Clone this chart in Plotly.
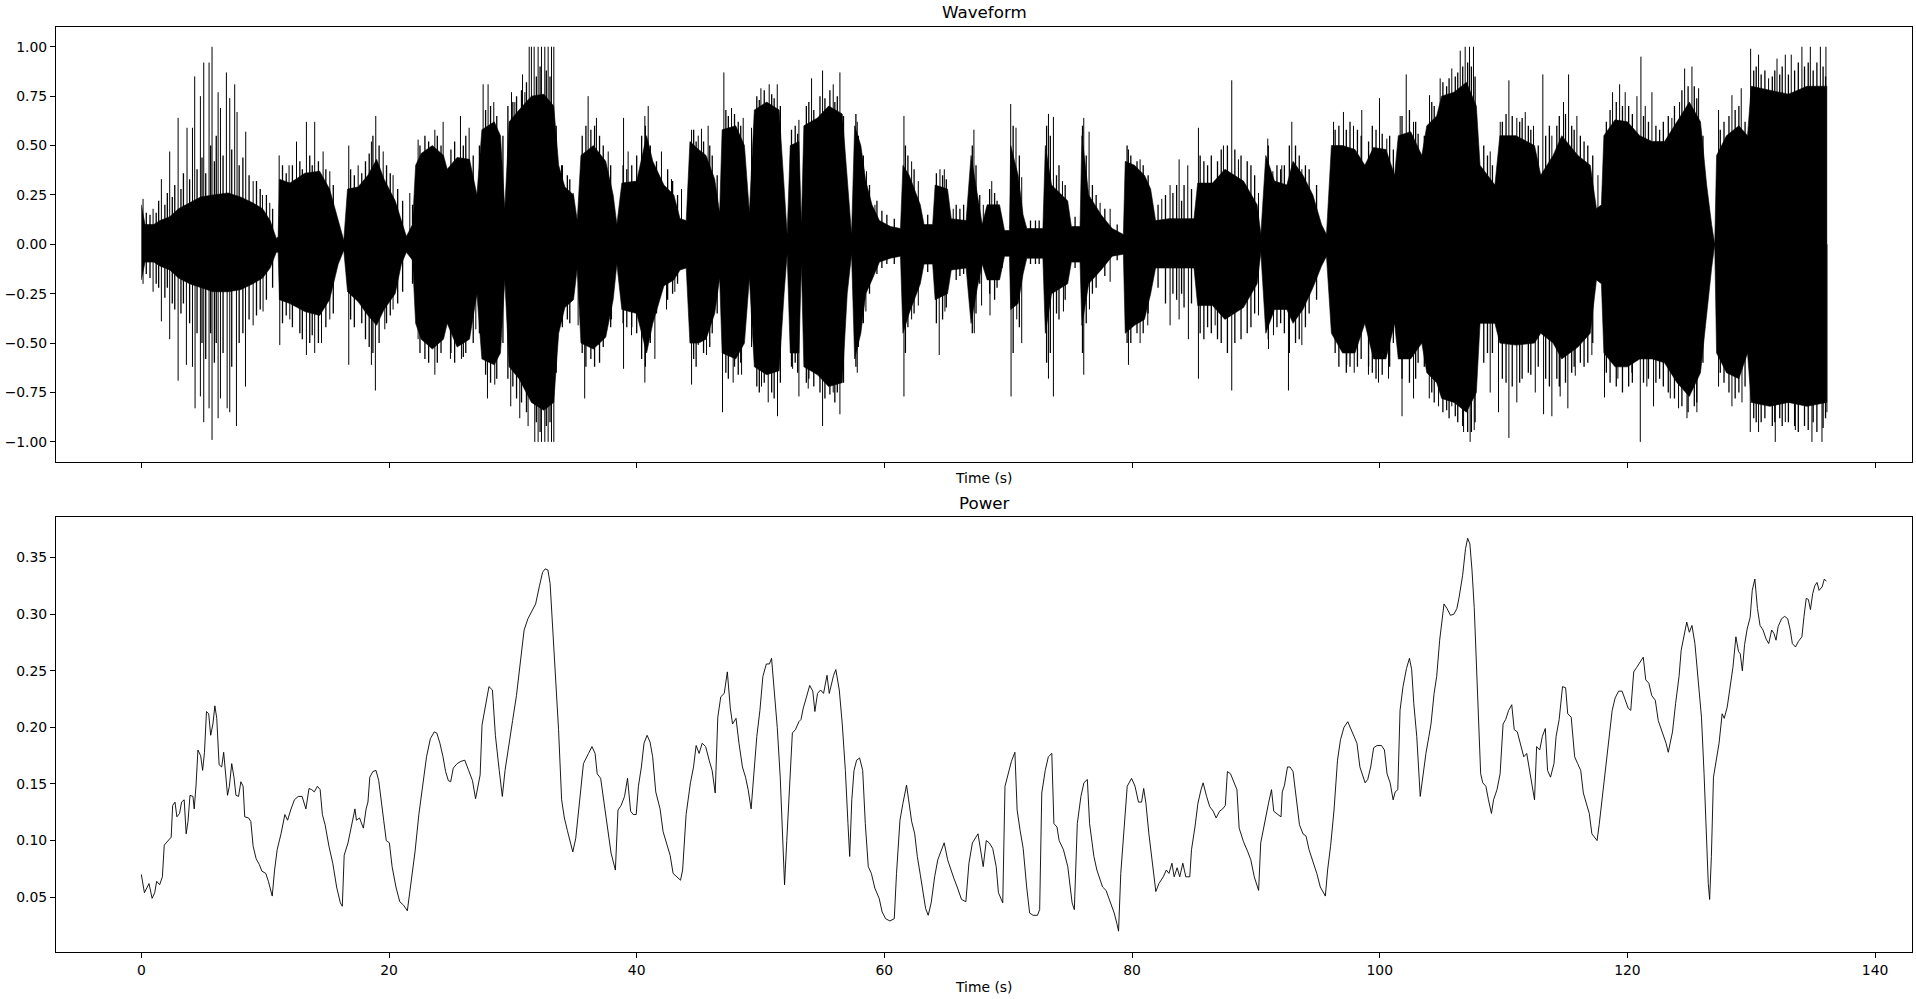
import plotly.graph_objects as go

# ---------------- Waveform envelope (time s, upper, lower) ----------------
env_a = [(0.0, 0.20, -0.18), (0.3, 0.10, -0.09), (1.0, 0.10, -0.09), (1.5, 0.12, -0.11), (2.3, 0.14, -0.13),
         (3.0, 0.18, -0.17), (3.9, 0.21, -0.20), (4.8, 0.24, -0.22), (5.8, 0.25, -0.24), (7.0, 0.26, -0.24),
         (8.0, 0.24, -0.23), (9.0, 0.21, -0.20), (9.8, 0.18, -0.17), (10.4, 0.12, -0.12), (10.9, 0.03, -0.04),
         (11.05, 0.04, -0.04), (11.15, 0.33, -0.28), (12.0, 0.31, -0.30), (13.2, 0.36, -0.34), (14.4, 0.37, -0.36),
         (15.2, 0.28, -0.28), (15.9, 0.12, -0.10), (16.35, 0.02, -0.03), (16.65, 0.28, -0.24), (17.5, 0.29, -0.29),
         (18.3, 0.35, -0.36), (19.0, 0.43, -0.41), (19.6, 0.33, -0.33), (20.5, 0.22, -0.25), (21.0, 0.12, -0.10),
         (21.4, 0.04, -0.04), (21.9, 0.10, -0.08)]
env_b = [(22.15, 0.40, -0.40), (22.6, 0.46, -0.48), (23.5, 0.50, -0.53), (24.4, 0.45, -0.48), (24.7, 0.38, -0.40),
         (25.5, 0.44, -0.52), (26.5, 0.43, -0.48), (27.1, 0.25, -0.25), (27.5, 0.58, -0.58), (28.5, 0.62, -0.61),
         (29.0, 0.55, -0.55), (29.35, 0.18, -0.18), (29.7, 0.62, -0.62), (30.5, 0.68, -0.68), (31.5, 0.75, -0.80),
         (32.5, 0.76, -0.84), (33.3, 0.70, -0.80), (33.7, 0.40, -0.45), (34.2, 0.29, -0.32), (34.9, 0.25, -0.28),
         (35.2, 0.12, -0.12), (35.5, 0.45, -0.50), (36.5, 0.50, -0.53), (37.5, 0.42, -0.47), (38.1, 0.25, -0.28),
         (38.4, 0.10, -0.10), (38.8, 0.31, -0.33), (40.0, 0.32, -0.35), (40.8, 0.55, -0.55), (41.3, 0.42, -0.40),
         (42.2, 0.30, -0.21), (43.0, 0.25, -0.18), (43.5, 0.13, -0.13), (44.0, 0.12, -0.12), (44.3, 0.52, -0.50),
         (45.0, 0.48, -0.50)]
env_c = [(45.6, 0.45, -0.48), (46.3, 0.33, -0.35), (46.7, 0.16, -0.17), (46.9, 0.58, -0.55), (48.0, 0.60, -0.58),
         (48.7, 0.50, -0.50), (49.1, 0.16, -0.17), (49.5, 0.68, -0.62), (50.5, 0.72, -0.66), (51.5, 0.68, -0.64),
         (51.9, 0.30, -0.25), (52.15, 0.05, -0.05), (52.4, 0.50, -0.55), (53.1, 0.52, -0.55), (53.3, 0.10, -0.10),
         (53.5, 0.60, -0.62), (54.6, 0.64, -0.66), (55.5, 0.70, -0.72), (56.6, 0.66, -0.70), (57.0, 0.35, -0.25),
         (57.35, 0.05, -0.05), (57.6, 0.60, -0.58), (58.1, 0.50, -0.45), (58.5, 0.32, -0.25), (59.0, 0.20, -0.18),
         (59.6, 0.12, -0.09), (60.5, 0.09, -0.07), (61.3, 0.08, -0.06), (61.5, 0.40, -0.45), (62.0, 0.35, -0.35),
         (62.9, 0.20, -0.20), (63.2, 0.10, -0.10), (63.9, 0.10, -0.10), (64.1, 0.30, -0.28), (65.1, 0.28, -0.25),
         (65.4, 0.13, -0.13), (66.6, 0.12, -0.12), (67.0, 0.45, -0.40), (67.5, 0.25, -0.22), (67.9, 0.10, -0.10)]
env_d = [(68.3, 0.20, -0.18), (69.3, 0.20, -0.18), (69.7, 0.07, -0.06), (70.1, 0.07, -0.06), (70.2, 0.50, -0.33),
         (70.8, 0.35, -0.30), (71.2, 0.15, -0.15), (71.5, 0.08, -0.07), (72.8, 0.08, -0.07), (73.0, 0.50, -0.45),
         (73.5, 0.30, -0.25), (74.8, 0.22, -0.20), (75.1, 0.09, -0.09), (75.8, 0.09, -0.09), (75.95, 0.55, -0.41),
         (76.5, 0.25, -0.20), (77.5, 0.15, -0.13), (78.4, 0.08, -0.06), (79.3, 0.05, -0.05), (79.45, 0.42, -0.45),
         (80.2, 0.40, -0.41), (81.0, 0.35, -0.38), (81.5, 0.28, -0.25), (81.9, 0.12, -0.12), (83.0, 0.13, -0.12),
         (85.0, 0.13, -0.12), (85.3, 0.31, -0.31), (86.5, 0.31, -0.31), (87.5, 0.38, -0.38), (89.0, 0.32, -0.32),
         (90.1, 0.20, -0.20), (90.4, 0.05, -0.04), (90.8, 0.45, -0.45)]
env_e = [(91.5, 0.32, -0.33), (92.5, 0.30, -0.33), (93.0, 0.42, -0.40), (93.8, 0.35, -0.33), (94.6, 0.25, -0.22),
         (95.3, 0.10, -0.11), (95.7, 0.05, -0.06), (96.1, 0.50, -0.45), (97.0, 0.50, -0.55), (98.0, 0.48, -0.55),
         (98.8, 0.40, -0.40), (99.5, 0.49, -0.58), (100.5, 0.48, -0.58), (101.2, 0.35, -0.40), (101.5, 0.55, -0.58),
         (102.5, 0.57, -0.58), (103.4, 0.45, -0.50), (103.8, 0.60, -0.65), (104.6, 0.65, -0.70), (105.0, 0.75, -0.78),
         (106.0, 0.77, -0.80), (107.0, 0.82, -0.85), (107.8, 0.70, -0.75), (108.1, 0.40, -0.40), (109.3, 0.30, -0.40),
         (109.7, 0.55, -0.50), (111.0, 0.55, -0.51), (112.5, 0.50, -0.50), (113.0, 0.35, -0.45), (114.0, 0.45, -0.50)]
env_f = [(114.7, 0.55, -0.58), (116.0, 0.45, -0.52), (117.0, 0.40, -0.45), (117.5, 0.18, -0.18), (117.9, 0.20, -0.20),
         (118.1, 0.55, -0.55), (119.0, 0.63, -0.62), (120.0, 0.62, -0.62), (121.0, 0.55, -0.58), (122.0, 0.52, -0.58),
         (123.0, 0.52, -0.60), (124.0, 0.62, -0.70), (125.0, 0.72, -0.77), (125.9, 0.62, -0.65), (126.4, 0.30, -0.35),
         (126.8, 0.10, -0.12), (127.05, 0.0, 0.0), (127.2, 0.45, -0.55), (128.0, 0.55, -0.65), (129.0, 0.60, -0.68),
         (129.7, 0.55, -0.55), (130.0, 0.80, -0.80), (131.5, 0.78, -0.82), (133.0, 0.76, -0.80), (134.5, 0.80, -0.82),
         (136.1, 0.80, -0.80)]

# ---------------- Waveform tall peaks (time s, amplitude) ----------------
peaks_up = [(0.14, 0.23), (0.95, 0.18), (1.62, 0.33), (2.29, 0.47), (2.97, 0.64), (3.69, 0.59), (4.13, 0.59),
            (4.31, 0.85), (4.77, 0.75), (5.04, 0.92), (5.47, 0.92), (5.71, 1.0), (6.2, 0.77), (6.39, 0.69),
            (6.87, 0.87), (7.14, 0.74), (7.54, 0.81), (7.73, 0.67), (8.43, 0.57), (9.03, 0.32), (9.78, 0.25),
            (10.37, 0.21), (11.13, 0.45), (11.93, 0.40), (12.53, 0.52), (13.33, 0.62), (14.0, 0.62), (14.68, 0.47),
            (15.22, 0.37), (16.75, 0.50), (17.51, 0.40), (18.58, 0.52), (18.93, 0.65), (19.53, 0.47), (20.33, 0.35),
            (21.68, 0.26),
            (22.35, 0.53), (23.7, 0.58), (24.37, 0.62), (25.77, 0.65), (26.47, 0.59), (27.6, 0.81), (28.0, 0.81),
            (28.46, 0.72), (29.89, 0.77), (30.16, 0.72), (30.78, 0.86), (30.97, 0.77), (31.32, 1.0), (31.5, 1.0),
            (31.72, 1.0), (32.04, 1.0), (32.31, 1.0), (32.58, 1.0), (32.85, 1.0), (33.12, 1.0), (33.31, 1.0),
            (33.93, 0.40), (34.87, 0.26), (36.08, 0.75), (36.75, 0.64), (37.7, 0.47), (38.94, 0.64), (39.31, 0.47),
            (40.66, 0.65), (40.93, 0.70), (42.0, 0.47), (42.81, 0.33), (43.62, 0.28), (44.43, 0.58), (44.97, 0.55),
            (45.23, 0.585), (45.77, 0.60), (47.04, 0.87), (47.66, 0.69), (48.6, 0.64), (49.27, 0.59), (50.03, 0.79),
            (50.7, 0.81), (51.35, 0.81), (53.1, 0.63), (54.12, 0.84), (55.01, 0.88), (55.87, 0.81), (56.41, 0.87),
            (57.81, 0.62), (58.56, 0.37), (59.24, 0.20), (61.58, 0.65), (62.2, 0.42), (62.74, 0.32), (64.49, 0.38),
            (64.84, 0.38), (65.56, 0.18), (67.23, 0.58), (67.99, 0.20),
            (68.67, 0.32), (70.2, 0.71), (70.63, 0.59), (71.09, 0.34), (73.25, 0.66), (73.65, 0.645), (74.38, 0.32),
            (76.1, 0.64), (76.53, 0.57), (77.42, 0.21), (78.23, 0.18), (79.71, 0.48), (80.65, 0.43), (81.05, 0.33),
            (82.4, 0.23), (83.07, 0.30), (83.8, 0.43), (84.5, 0.40), (85.36, 0.59), (87.38, 0.50), (88.05, 0.83),
            (88.59, 0.43), (90.21, 0.26), (90.96, 0.535),
            (91.37, 0.37), (92.09, 0.40), (92.9, 0.62), (93.71, 0.38), (96.27, 0.62), (97.07, 0.67), (97.88, 0.60),
            (98.55, 0.68), (99.98, 0.74), (100.57, 0.535), (101.65, 0.65), (102.14, 0.86), (102.73, 0.62),
            (104.02, 0.755), (104.88, 0.84), (105.82, 0.89), (106.5, 0.98), (106.9, 1.0), (107.25, 1.0),
            (107.57, 1.0), (108.92, 0.47), (109.73, 0.62), (110.43, 0.83), (111.07, 0.64), (111.75, 0.67),
            (112.42, 0.60), (113.17, 0.86), (113.9, 0.55),
            (114.84, 0.72), (115.25, 0.86), (115.92, 0.65), (117.62, 0.35), (118.21, 0.55), (118.8, 0.77),
            (119.37, 0.81), (119.82, 0.77), (120.77, 0.75), (121.09, 0.95), (121.44, 0.70), (121.98, 0.77),
            (123.59, 0.64), (124.21, 0.72), (124.62, 0.89), (125.21, 0.90), (125.75, 0.79), (127.36, 0.68),
            (128.44, 0.755), (129.19, 0.79), (129.95, 0.99), (130.59, 0.96), (131.4, 0.84), (132.08, 0.94),
            (132.75, 0.96), (133.23, 0.96), (134.09, 1.0), (134.77, 1.0), (135.58, 1.0), (136.03, 1.0)]

peaks_down = [(0.14, -0.20), (0.95, -0.24), (1.62, -0.39), (2.29, -0.48), (2.97, -0.69), (3.64, -0.61), (4.13, -0.62),
              (4.34, -0.83), (4.77, -0.77), (5.04, -0.90), (5.47, -0.83), (5.71, -0.99), (6.2, -0.88), (6.39, -0.78),
              (6.93, -0.83), (7.14, -0.85), (7.68, -0.92), (8.41, -0.72), (9.03, -0.41), (9.83, -0.34), (11.18, -0.51),
              (11.99, -0.38), (13.33, -0.56), (14.0, -0.55), (14.55, -0.50), (15.22, -0.38), (16.75, -0.61),
              (18.58, -0.61), (18.9, -0.74), (19.66, -0.43), (20.33, -0.33),
              (22.35, -0.48), (23.7, -0.66), (24.96, -0.58), (25.85, -0.58), (27.01, -0.43), (27.95, -0.78),
              (28.54, -0.71), (29.83, -0.82), (30.56, -0.88), (31.23, -0.92), (31.77, -1.0), (32.04, -1.0),
              (32.31, -1.0), (32.58, -1.0), (32.85, -1.0), (33.12, -1.0), (33.31, -1.0), (33.93, -0.39),
              (35.27, -0.41), (35.8, -0.78), (36.96, -0.51), (37.97, -0.38), (38.94, -0.63), (39.58, -0.46),
              (40.66, -0.70), (41.47, -0.58), (42.41, -0.33), (43.08, -0.24), (44.43, -0.71), (44.97, -0.51),
              (45.64, -0.56), (46.93, -0.85), (47.79, -0.70), (48.47, -0.66), (49.27, -0.52), (50.08, -0.72),
              (50.62, -0.80), (51.37, -0.87), (52.59, -0.63), (53.1, -0.77), (53.85, -0.73), (55.01, -0.92),
              (55.87, -0.75), (56.41, -0.86), (57.81, -0.65), (58.51, -0.34), (61.58, -0.77), (62.2, -0.38),
              (62.74, -0.31), (64.43, -0.56), (64.89, -0.34), (67.26, -0.45), (67.85, -0.31),
              (68.53, -0.36), (70.23, -0.77), (70.69, -0.38), (71.09, -0.50), (73.25, -0.68), (73.65, -0.77),
              (74.46, -0.34), (76.1, -0.66), (76.56, -0.33), (78.23, -0.19), (79.71, -0.61), (80.65, -0.50),
              (81.27, -0.41), (83.07, -0.41), (83.8, -0.38), (84.55, -0.48), (85.36, -0.68), (86.71, -0.41),
              (88.05, -0.74), (90.21, -0.36), (91.02, -0.53),
              (91.42, -0.46), (92.63, -0.74), (93.71, -0.51), (96.27, -0.46), (97.34, -0.61), (97.94, -0.65),
              (99.09, -0.66), (99.9, -0.70), (100.71, -0.68), (101.8, -0.87), (102.73, -0.78), (104.0, -0.78),
              (104.75, -0.82), (105.82, -0.82), (106.77, -0.95), (107.3, -1.0), (107.63, -0.94), (108.92, -0.75),
              (109.59, -0.85), (110.43, -0.98), (111.07, -0.80), (112.56, -0.75), (113.23, -0.86), (113.9, -0.87),
              (114.57, -0.77), (115.19, -0.83), (115.79, -0.665), (117.13, -0.56), (118.15, -0.775), (119.23, -0.68),
              (120.36, -0.65), (121.04, -1.0), (121.57, -0.72), (122.11, -0.82), (123.46, -0.78), (124.13, -0.83),
              (124.81, -0.88), (125.61, -0.85), (127.36, -0.72), (128.44, -0.82), (129.25, -0.80), (129.92, -0.95),
              (130.59, -0.95), (131.94, -1.0), (132.75, -0.90), (133.56, -0.94), (134.9, -1.0), (135.71, -1.0),
              (136.11, -0.85)]

# ---------------- Waveform fringe peaks (time s, upper, lower) ----------------
fringe_a = [(0.4, 0.16, -0.15), (0.7, 0.15, -0.17), (1.2, 0.16, -0.20), (1.4, 0.22, -0.22), (1.9, 0.20, -0.27),
            (2.1, 0.26, -0.22), (2.5, 0.24, -0.30), (2.7, 0.30, -0.33), (3.2, 0.28, -0.35), (3.4, 0.36, -0.30),
            (3.9, 0.33, -0.40), (4.5, 0.38, -0.45), (4.9, 0.44, -0.50), (5.2, 0.36, -0.58), (5.6, 0.50, -0.45),
            (5.9, 0.42, -0.60), (6.05, 0.55, -0.50), (6.6, 0.45, -0.55), (7.3, 0.48, -0.62), (7.9, 0.40, -0.50),
            (8.2, 0.44, -0.45), (8.7, 0.35, -0.38), (9.3, 0.32, -0.36), (9.6, 0.28, -0.33), (10.1, 0.25, -0.28),
            (10.6, 0.18, -0.22), (11.4, 0.40, -0.40), (11.7, 0.36, -0.36), (12.2, 0.40, -0.42), (12.8, 0.42, -0.45),
            (13.0, 0.38, -0.48), (13.6, 0.45, -0.50), (13.8, 0.40, -0.46), (14.3, 0.42, -0.50), (14.9, 0.38, -0.42),
            (15.5, 0.30, -0.35), (16.9, 0.38, -0.38), (17.2, 0.35, -0.42), (17.8, 0.36, -0.40), (18.1, 0.42, -0.48),
            (18.4, 0.46, -0.52), (18.7, 0.55, -0.55), (19.2, 0.50, -0.50), (19.8, 0.40, -0.40), (20.1, 0.36, -0.36),
            (20.7, 0.28, -0.30), (21.1, 0.22, -0.24), (21.9, 0.20, -0.20)]
fringe_b = [(22.5, 0.50, -0.55), (22.9, 0.55, -0.58), (23.2, 0.52, -0.60), (23.9, 0.55, -0.60), (24.2, 0.50, -0.55),
            (25.0, 0.48, -0.55), (25.3, 0.52, -0.60), (26.0, 0.50, -0.57), (26.2, 0.55, -0.55), (26.8, 0.45, -0.50),
            (27.3, 0.50, -0.45), (27.8, 0.68, -0.66), (28.2, 0.70, -0.70), (28.7, 0.65, -0.68), (29.2, 0.55, -0.50),
            (29.6, 0.70, -0.68), (30.0, 0.72, -0.72), (30.3, 0.75, -0.78), (30.7, 0.78, -0.80), (31.1, 0.82, -0.85),
            (31.9, 0.85, -0.90), (32.2, 0.90, -0.95), (32.7, 0.88, -0.92), (33.0, 0.85, -0.90), (33.5, 0.60, -0.65),
            (34.0, 0.40, -0.42), (34.4, 0.35, -0.38), (34.6, 0.33, -0.40), (35.6, 0.55, -0.55), (35.9, 0.60, -0.62),
            (36.3, 0.58, -0.58), (36.6, 0.60, -0.62), (37.0, 0.55, -0.60), (37.3, 0.50, -0.52), (37.9, 0.40, -0.42),
            (38.9, 0.40, -0.40), (39.2, 0.38, -0.42), (39.6, 0.40, -0.42), (40.0, 0.45, -0.45), (40.4, 0.55, -0.58),
            (40.7, 0.60, -0.62), (41.1, 0.50, -0.50), (41.6, 0.42, -0.35), (42.5, 0.38, -0.28), (42.9, 0.32, -0.25),
            (43.3, 0.25, -0.20), (44.6, 0.58, -0.58), (44.8, 0.52, -0.62)]
fringe_c = [(45.4, 0.52, -0.55), (45.9, 0.50, -0.52), (46.1, 0.45, -0.45), (46.5, 0.35, -0.35), (47.2, 0.68, -0.65),
            (47.4, 0.65, -0.68), (47.9, 0.66, -0.62), (48.2, 0.62, -0.66), (48.4, 0.60, -0.60), (49.7, 0.75, -0.72),
            (49.9, 0.73, -0.75), (50.3, 0.78, -0.70), (50.9, 0.76, -0.75), (51.1, 0.74, -0.78), (51.6, 0.70, -0.70),
            (52.5, 0.58, -0.62), (52.8, 0.60, -0.60), (53.0, 0.56, -0.65), (53.7, 0.70, -0.70), (53.9, 0.72, -0.68),
            (54.3, 0.68, -0.72), (54.8, 0.75, -0.75), (55.2, 0.74, -0.78), (55.6, 0.78, -0.76), (56.0, 0.72, -0.80),
            (56.2, 0.75, -0.75), (56.7, 0.65, -0.70), (57.7, 0.66, -0.62), (57.9, 0.55, -0.52), (58.3, 0.45, -0.40),
            (58.8, 0.30, -0.25), (59.4, 0.22, -0.15), (59.8, 0.17, -0.12), (60.2, 0.15, -0.10), (60.8, 0.13, -0.10),
            (61.7, 0.50, -0.55), (61.9, 0.45, -0.42), (62.4, 0.38, -0.35), (63.5, 0.15, -0.14), (64.2, 0.36, -0.40),
            (64.7, 0.35, -0.38), (65.0, 0.33, -0.32), (65.8, 0.20, -0.18), (66.1, 0.18, -0.16), (66.4, 0.20, -0.15),
            (67.1, 0.50, -0.45), (67.4, 0.40, -0.35), (67.7, 0.25, -0.20)]
fringe_d = [(68.5, 0.28, -0.25), (68.9, 0.26, -0.28), (69.1, 0.22, -0.22), (69.5, 0.12, -0.12), (70.4, 0.60, -0.55),
            (70.9, 0.45, -0.42), (71.8, 0.12, -0.10), (72.2, 0.12, -0.10), (72.5, 0.12, -0.10), (73.1, 0.60, -0.60),
            (73.4, 0.55, -0.55), (73.9, 0.35, -0.35), (74.1, 0.40, -0.38), (74.6, 0.30, -0.28), (75.4, 0.14, -0.12),
            (76.0, 0.60, -0.55), (76.3, 0.45, -0.40), (76.8, 0.30, -0.25), (77.1, 0.25, -0.22), (77.8, 0.18, -0.16),
            (78.8, 0.10, -0.08), (79.6, 0.50, -0.50), (79.9, 0.45, -0.50), (80.4, 0.42, -0.45), (80.9, 0.40, -0.45),
            (81.3, 0.35, -0.35), (82.1, 0.20, -0.22), (82.7, 0.25, -0.30), (83.3, 0.26, -0.25), (83.6, 0.30, -0.28),
            (84.0, 0.22, -0.25), (84.2, 0.30, -0.32), (84.8, 0.28, -0.30), (85.5, 0.45, -0.45), (85.8, 0.42, -0.48),
            (86.1, 0.40, -0.42), (86.4, 0.45, -0.45), (86.9, 0.42, -0.48), (87.2, 0.48, -0.50), (87.7, 0.50, -0.55),
            (88.3, 0.48, -0.50), (88.8, 0.45, -0.48), (89.3, 0.42, -0.45), (89.6, 0.40, -0.42), (89.9, 0.35, -0.35),
            (91.0, 0.50, -0.48)]
fringe_e = [(91.7, 0.40, -0.42), (92.0, 0.38, -0.40), (92.3, 0.40, -0.45), (92.7, 0.50, -0.55), (93.2, 0.50, -0.50),
            (93.5, 0.45, -0.48), (94.0, 0.40, -0.42), (94.3, 0.38, -0.35), (94.9, 0.30, -0.28), (96.4, 0.58, -0.55),
            (96.7, 0.60, -0.62), (97.3, 0.58, -0.65), (97.6, 0.62, -0.62), (98.2, 0.58, -0.62), (98.5, 0.55, -0.58),
            (99.1, 0.52, -0.62), (99.4, 0.60, -0.65), (99.7, 0.58, -0.68), (100.2, 0.56, -0.66), (100.8, 0.55, -0.62),
            (101.1, 0.48, -0.50), (101.8, 0.65, -0.68), (102.4, 0.68, -0.70), (102.9, 0.62, -0.68), (103.1, 0.56, -0.60),
            (103.6, 0.55, -0.62), (104.2, 0.72, -0.75), (104.4, 0.70, -0.80), (105.1, 0.82, -0.85), (105.4, 0.80, -0.84),
            (105.6, 0.84, -0.88), (106.1, 0.85, -0.87), (106.3, 0.87, -0.90), (106.7, 0.90, -0.92), (107.1, 0.92, -0.95),
            (107.4, 0.90, -0.95), (107.7, 0.85, -0.90), (108.4, 0.50, -0.60), (108.7, 0.45, -0.55), (109.1, 0.40, -0.55),
            (109.9, 0.62, -0.68), (110.2, 0.66, -0.70), (110.7, 0.65, -0.72), (111.3, 0.62, -0.70), (111.5, 0.64, -0.68),
            (112.0, 0.60, -0.65), (112.2, 0.58, -0.66), (112.8, 0.50, -0.62), (113.4, 0.55, -0.68), (113.7, 0.60, -0.72)]
fringe_f = [(114.3, 0.60, -0.68), (114.5, 0.65, -0.72), (115.0, 0.66, -0.70), (115.5, 0.60, -0.65), (115.7, 0.58, -0.62),
            (116.2, 0.55, -0.60), (116.5, 0.52, -0.62), (116.8, 0.50, -0.60), (117.2, 0.45, -0.50), (118.3, 0.62, -0.65),
            (118.6, 0.68, -0.70), (119.1, 0.72, -0.72), (119.6, 0.70, -0.75), (120.1, 0.70, -0.72), (120.4, 0.66, -0.70),
            (121.3, 0.65, -0.70), (121.7, 0.62, -0.68), (122.3, 0.60, -0.70), (122.6, 0.58, -0.68), (122.9, 0.62, -0.72),
            (123.3, 0.65, -0.75), (123.8, 0.70, -0.78), (124.4, 0.78, -0.82), (124.9, 0.80, -0.85), (125.4, 0.80, -0.82),
            (125.6, 0.74, -0.80), (126.1, 0.55, -0.60), (127.5, 0.58, -0.65), (127.8, 0.62, -0.70), (128.2, 0.65, -0.75),
            (128.7, 0.68, -0.78), (129.0, 0.70, -0.75), (129.5, 0.62, -0.72), (130.2, 0.88, -0.88), (130.4, 0.90, -0.90),
            (130.8, 0.86, -0.90), (131.1, 0.88, -0.88), (131.7, 0.85, -0.92), (131.9, 0.88, -0.90), (132.3, 0.86, -0.88),
            (132.5, 0.90, -0.92), (133.0, 0.86, -0.90), (133.5, 0.88, -0.92), (133.8, 0.92, -0.95), (134.3, 0.90, -0.92),
            (134.6, 0.92, -0.94), (135.0, 0.88, -0.90), (135.3, 0.92, -0.95), (135.8, 0.90, -0.93), (136.0, 0.85, -0.88)]

# ---------------- Power (time s, power) ----------------
power_a = [(0.0, 0.070), (0.25, 0.054), (0.62, 0.062), (0.87, 0.049), (1.08, 0.054), (1.24, 0.064), (1.48, 0.061),
           (1.7, 0.068), (1.85, 0.096), (2.16, 0.100), (2.41, 0.103), (2.53, 0.131), (2.72, 0.134), (2.87, 0.121),
           (3.09, 0.124), (3.25, 0.134), (3.46, 0.136), (3.62, 0.106), (3.77, 0.117), (3.93, 0.140), (4.17, 0.139),
           (4.27, 0.128), (4.42, 0.149), (4.57, 0.180), (4.79, 0.175), (4.95, 0.162), (5.1, 0.178), (5.26, 0.214),
           (5.44, 0.212), (5.6, 0.193), (5.78, 0.203), (5.94, 0.219), (6.09, 0.208), (6.28, 0.167), (6.49, 0.165),
           (6.65, 0.178), (6.8, 0.158), (6.96, 0.140), (7.11, 0.148), (7.3, 0.168), (7.48, 0.156), (7.64, 0.140),
           (7.85, 0.139), (8.04, 0.152), (8.22, 0.148), (8.35, 0.121), (8.66, 0.120), (8.84, 0.117), (9.03, 0.095),
           (9.27, 0.084), (9.52, 0.079), (9.74, 0.073), (10.05, 0.071), (10.26, 0.064), (10.57, 0.051),
           (10.76, 0.074), (10.97, 0.092), (11.28, 0.106), (11.59, 0.123), (11.81, 0.118), (12.06, 0.127),
           (12.36, 0.136), (12.67, 0.139), (12.98, 0.139), (13.29, 0.128), (13.54, 0.146), (13.76, 0.145),
           (13.97, 0.143), (14.22, 0.148), (14.44, 0.145), (14.62, 0.123), (14.84, 0.114), (15.15, 0.095),
           (15.46, 0.080), (15.77, 0.059), (16.07, 0.045), (16.23, 0.042), (16.38, 0.087), (16.69, 0.098),
           (16.94, 0.112), (17.25, 0.128), (17.37, 0.118), (17.62, 0.120), (17.93, 0.111), (18.15, 0.128),
           (18.3, 0.134), (18.45, 0.156), (18.7, 0.161), (18.95, 0.162), (19.17, 0.153), (19.38, 0.137),
           (19.57, 0.118), (19.78, 0.100), (20.03, 0.098), (20.25, 0.077), (20.56, 0.059), (20.87, 0.046),
           (21.17, 0.043), (21.48, 0.038), (21.79, 0.064), (22.1, 0.090), (22.41, 0.123), (22.72, 0.150),
           (23.03, 0.174), (23.34, 0.190), (23.65, 0.196), (23.86, 0.195), (24.11, 0.186), (24.36, 0.174),
           (24.57, 0.161), (24.79, 0.153), (24.98, 0.152), (25.19, 0.164), (25.5, 0.168), (25.81, 0.170),
           (26.12, 0.171), (26.43, 0.162), (26.74, 0.153), (26.99, 0.137), (27.2, 0.148), (27.36, 0.158),
           (27.51, 0.202), (27.82, 0.221), (28.07, 0.236), (28.35, 0.233), (28.59, 0.193), (28.9, 0.162),
           (29.15, 0.139), (29.37, 0.162), (29.68, 0.186), (29.98, 0.206), (30.29, 0.228), (30.6, 0.256),
           (30.91, 0.286), (31.22, 0.296), (31.53, 0.302), (31.84, 0.309), (32.15, 0.325), (32.4, 0.337),
           (32.61, 0.340), (32.83, 0.339), (33.01, 0.327), (33.23, 0.286), (33.45, 0.245), (33.69, 0.198),
           (33.94, 0.136), (34.16, 0.120), (34.4, 0.109), (34.62, 0.099), (34.84, 0.090), (35.08, 0.102),
           (35.24, 0.118), (35.49, 0.145), (35.7, 0.168)]
power_b = [(36.11, 0.177), (36.39, 0.183), (36.64, 0.177), (36.81, 0.159), (37.09, 0.155), (37.34, 0.136),
           (37.62, 0.115), (37.93, 0.089), (38.28, 0.074), (38.49, 0.127), (38.74, 0.131), (39.02, 0.139),
           (39.26, 0.155), (39.51, 0.126), (39.72, 0.123), (39.96, 0.123), (40.14, 0.148), (40.38, 0.165),
           (40.59, 0.186), (40.84, 0.193), (41.08, 0.187), (41.29, 0.174), (41.54, 0.143), (41.89, 0.128),
           (42.13, 0.108), (42.41, 0.098), (42.7, 0.087), (42.94, 0.071), (43.29, 0.067), (43.54, 0.065),
           (43.71, 0.074), (43.99, 0.123), (44.34, 0.151), (44.59, 0.165), (44.8, 0.184), (45.04, 0.177),
           (45.29, 0.186), (45.57, 0.183), (45.85, 0.171), (46.09, 0.162), (46.34, 0.142), (46.55, 0.209),
           (46.79, 0.227), (47.07, 0.230), (47.32, 0.249), (47.56, 0.217), (47.74, 0.203), (48.02, 0.208),
           (48.26, 0.186), (48.54, 0.165), (48.79, 0.156), (49.0, 0.145), (49.24, 0.128), (49.42, 0.156),
           (49.7, 0.192), (49.95, 0.215), (50.19, 0.245), (50.47, 0.256), (50.72, 0.256), (50.89, 0.261),
           (51.07, 0.239), (51.35, 0.200), (51.59, 0.156), (51.8, 0.100), (51.94, 0.061), (52.12, 0.100),
           (52.33, 0.142), (52.57, 0.195), (52.82, 0.198), (53.1, 0.205), (53.27, 0.207), (53.45, 0.217),
           (53.69, 0.226), (53.97, 0.237), (54.22, 0.232), (54.39, 0.214), (54.6, 0.230), (54.85, 0.233),
           (55.09, 0.230), (55.37, 0.246), (55.55, 0.230), (55.72, 0.239), (55.9, 0.246), (56.08, 0.251),
           (56.36, 0.233), (56.6, 0.203), (56.85, 0.162), (57.06, 0.115), (57.2, 0.086), (57.37, 0.136),
           (57.55, 0.162), (57.76, 0.171), (58.0, 0.173), (58.25, 0.162), (58.46, 0.115), (58.7, 0.077),
           (58.95, 0.071), (59.23, 0.058), (59.58, 0.049), (59.82, 0.037), (60.1, 0.031), (60.45, 0.029),
           (60.8, 0.031), (60.98, 0.071), (61.26, 0.118), (61.5, 0.133), (61.79, 0.149), (61.96, 0.136),
           (62.2, 0.117), (62.45, 0.106), (62.66, 0.086), (62.9, 0.070), (63.08, 0.058), (63.33, 0.040),
           (63.54, 0.034), (63.78, 0.045), (64.06, 0.068), (64.31, 0.083), (64.55, 0.090), (64.83, 0.098),
           (65.11, 0.083), (65.36, 0.074), (65.6, 0.067), (65.88, 0.059), (66.23, 0.048), (66.58, 0.046),
           (66.83, 0.080), (67.11, 0.098), (67.35, 0.102), (67.56, 0.106), (67.81, 0.089), (67.98, 0.077),
           (68.23, 0.100), (68.47, 0.098), (68.75, 0.093), (69.03, 0.077), (69.21, 0.054), (69.39, 0.049),
           (69.56, 0.045), (69.74, 0.148), (70.02, 0.161), (70.26, 0.170), (70.54, 0.178), (70.72, 0.127),
           (70.96, 0.109), (71.21, 0.093), (71.49, 0.059), (71.73, 0.036), (72.01, 0.034), (72.36, 0.034),
           (72.54, 0.039), (72.71, 0.142), (72.99, 0.162), (73.24, 0.174), (73.52, 0.177), (73.69, 0.115),
           (73.94, 0.112), (74.11, 0.100), (74.46, 0.092), (74.81, 0.077), (75.16, 0.045), (75.34, 0.039),
           (75.58, 0.115), (75.87, 0.139), (76.11, 0.151), (76.39, 0.154), (76.57, 0.115), (76.74, 0.098),
           (76.92, 0.086), (77.16, 0.074), (77.37, 0.067), (77.62, 0.059), (77.9, 0.056), (78.21, 0.046),
           (78.56, 0.036), (78.77, 0.027), (78.91, 0.020), (79.09, 0.071), (79.37, 0.115), (79.61, 0.148),
           (79.96, 0.155), (80.24, 0.148), (80.52, 0.134), (80.77, 0.134), (80.94, 0.146), (81.12, 0.133),
           (81.36, 0.106), (81.64, 0.080), (81.92, 0.055), (82.17, 0.062), (82.52, 0.068), (82.77, 0.074),
           (82.98, 0.071), (83.22, 0.080), (83.4, 0.068), (83.64, 0.076), (83.85, 0.068), (84.1, 0.080),
           (84.34, 0.068), (84.66, 0.068), (84.8, 0.092), (85.08, 0.112), (85.32, 0.133), (85.57, 0.145),
           (85.74, 0.151), (86.02, 0.139), (86.27, 0.130), (86.55, 0.126), (86.79, 0.120), (87.07, 0.126),
           (87.32, 0.128), (87.53, 0.131), (87.7, 0.161), (87.95, 0.159), (88.23, 0.151), (88.47, 0.145)]
power_c = [(88.65, 0.111), (89.0, 0.099), (89.35, 0.090), (89.59, 0.083), (89.87, 0.068), (90.22, 0.056),
           (90.39, 0.098), (90.56, 0.108), (90.81, 0.121), (91.02, 0.133), (91.26, 0.145), (91.44, 0.126),
           (91.78, 0.123), (92.03, 0.121), (92.13, 0.143), (92.31, 0.149), (92.55, 0.165), (92.76, 0.165),
           (93.0, 0.161), (93.18, 0.145), (93.35, 0.133), (93.52, 0.114), (93.8, 0.106), (94.05, 0.104),
           (94.29, 0.092), (94.57, 0.083), (94.92, 0.071), (95.2, 0.059), (95.44, 0.054), (95.61, 0.051),
           (95.79, 0.074), (96.03, 0.095), (96.31, 0.127), (96.59, 0.171), (96.83, 0.189), (97.11, 0.200),
           (97.42, 0.205), (97.7, 0.198), (97.98, 0.190), (98.16, 0.186), (98.4, 0.165), (98.57, 0.159),
           (98.82, 0.151), (99.03, 0.154), (99.27, 0.165), (99.51, 0.182), (99.79, 0.184), (100.14, 0.184),
           (100.38, 0.180), (100.59, 0.159), (100.84, 0.151), (101.08, 0.136), (101.25, 0.143), (101.46, 0.145),
           (101.64, 0.215), (101.88, 0.236), (102.16, 0.252), (102.4, 0.261), (102.58, 0.251), (102.75, 0.221),
           (102.99, 0.192), (103.27, 0.139), (103.52, 0.162), (103.73, 0.177), (103.97, 0.192), (104.14, 0.203),
           (104.39, 0.230), (104.6, 0.245), (104.84, 0.277), (105.02, 0.295), (105.19, 0.309), (105.43, 0.305),
           (105.71, 0.299), (105.99, 0.300), (106.23, 0.305), (106.41, 0.315), (106.69, 0.334), (106.93, 0.358),
           (107.1, 0.367), (107.28, 0.362), (107.45, 0.339), (107.63, 0.306), (107.8, 0.256), (107.97, 0.203),
           (108.15, 0.159), (108.32, 0.151), (108.57, 0.148), (108.78, 0.136), (109.02, 0.124), (109.19, 0.136),
           (109.47, 0.145), (109.72, 0.159), (109.96, 0.203), (110.17, 0.207), (110.41, 0.215), (110.66, 0.220),
           (110.86, 0.198), (111.11, 0.196), (111.35, 0.186), (111.63, 0.174), (111.87, 0.177), (112.05, 0.165),
           (112.26, 0.148), (112.5, 0.136), (112.67, 0.183), (112.92, 0.180), (113.13, 0.192), (113.37, 0.199),
           (113.55, 0.162), (113.79, 0.156), (114.07, 0.168), (114.24, 0.192), (114.49, 0.207), (114.76, 0.236),
           (115.01, 0.235), (115.18, 0.212), (115.46, 0.209), (115.74, 0.174), (115.98, 0.168), (116.23, 0.162),
           (116.44, 0.142), (116.68, 0.134), (116.92, 0.124), (117.13, 0.106), (117.38, 0.102), (117.55, 0.100),
           (117.72, 0.114), (117.97, 0.139), (118.25, 0.162), (118.49, 0.192), (118.77, 0.215), (119.01, 0.226),
           (119.29, 0.232), (119.57, 0.232), (119.81, 0.224), (120.06, 0.217), (120.27, 0.215), (120.51, 0.249),
           (120.75, 0.253), (121.03, 0.258), (121.28, 0.262), (121.48, 0.242), (121.73, 0.239), (121.97, 0.228),
           (122.25, 0.224), (122.49, 0.206), (122.7, 0.199), (122.95, 0.192), (123.12, 0.186), (123.3, 0.178),
           (123.47, 0.186), (123.64, 0.196), (123.89, 0.221), (124.17, 0.245), (124.34, 0.268), (124.58, 0.283),
           (124.79, 0.293), (125.0, 0.284), (125.21, 0.290), (125.45, 0.274), (125.73, 0.242), (125.98, 0.209),
           (126.19, 0.159), (126.36, 0.109), (126.53, 0.062), (126.64, 0.048), (126.78, 0.086), (126.95, 0.156),
           (127.2, 0.174), (127.4, 0.186), (127.65, 0.212), (127.82, 0.208), (128.06, 0.218), (128.34, 0.239),
           (128.52, 0.253), (128.76, 0.280), (128.97, 0.267), (129.11, 0.265), (129.28, 0.250), (129.46, 0.273),
           (129.67, 0.287), (129.91, 0.297), (130.08, 0.321), (130.29, 0.331), (130.5, 0.305), (130.71, 0.290),
           (130.95, 0.286), (131.2, 0.278), (131.41, 0.274), (131.65, 0.286), (131.83, 0.283), (132.0, 0.277),
           (132.17, 0.289), (132.45, 0.296), (132.7, 0.298), (132.94, 0.296), (133.15, 0.286), (133.32, 0.274),
           (133.57, 0.271), (133.81, 0.276), (134.09, 0.280), (134.26, 0.298), (134.44, 0.314), (134.61, 0.313),
           (134.78, 0.304), (134.96, 0.318), (135.13, 0.325), (135.31, 0.328), (135.48, 0.321), (135.72, 0.324),
           (135.9, 0.331), (136.07, 0.329)]

# ---------------- Axis ticks ----------------
time_ticks = [0, 20, 40, 60, 80, 100, 120, 140]
wave_ticks = [-1.0, -0.75, -0.5, -0.25, 0.0, 0.25, 0.5, 0.75, 1.0]
power_ticks = [0.05, 0.10, 0.15, 0.20, 0.25, 0.30, 0.35]

# ---------------- Build figure ----------------
env = env_a + env_b + env_c + env_d + env_e + env_f
env_t = [p[0] for p in env]
env_hi = [p[1] for p in env]
env_lo = [p[2] for p in env]

power = power_a + power_b + power_c
pw_t = [p[0] for p in power]
pw_v = [p[1] for p in power]

sx, sy = [], []
for t, v in peaks_up + peaks_down:
    sx += [t, t, None]
    sy += [0.0, v, None]

fx, fy = [], []
for t, hi, lo in fringe_a + fringe_b + fringe_c + fringe_d + fringe_e + fringe_f:
    fx += [t, t, None]
    fy += [lo, hi, None]

FONT = "DejaVu Sans"
fig = go.Figure()
fig.add_trace(go.Scatter(x=env_t + env_t[::-1], y=env_hi + env_lo[::-1], mode="lines", fill="toself",
                         fillcolor="black", line=dict(color="black", width=0.6),
                         xaxis="x", yaxis="y", hoverinfo="skip", showlegend=False))
fig.add_trace(go.Scatter(x=fx, y=fy, mode="lines", line=dict(color="black", width=1.3),
                         xaxis="x", yaxis="y", hoverinfo="skip", showlegend=False))
fig.add_trace(go.Scatter(x=sx, y=sy, mode="lines", line=dict(color="black", width=1),
                         xaxis="x", yaxis="y", hoverinfo="skip", showlegend=False))
fig.add_trace(go.Scatter(x=pw_t, y=pw_v, mode="lines", line=dict(color="black", width=0.9),
                         xaxis="x2", yaxis="y2", showlegend=False))

axis_common = dict(showline=True, mirror=True, linecolor="black", linewidth=1, ticks="outside", ticklen=5,
                   tickwidth=1, tickcolor="black", showgrid=False, zeroline=False, automargin=False,
                   tickfont=dict(family=FONT, size=13.9, color="black"))
xr = [-6.89, 142.98]

def fmt(v):
    return ("\u2212" if v < 0 else "") + f"{abs(v):.2f}"

fig.update_layout(
    width=1916, height=999, autosize=False,
    margin=dict(l=56, r=4, t=27, b=47),
    paper_bgcolor="white", plot_bgcolor="white",
    font=dict(family=FONT, color="black"),
    xaxis=dict(domain=[0, 1], anchor="y", range=xr, tickvals=time_ticks, showticklabels=False, **axis_common),
    yaxis=dict(domain=[0.5301, 1], anchor="x", range=[-1.1, 1.1], tickvals=wave_ticks,
               ticktext=[fmt(v) for v in wave_ticks], **axis_common),
    xaxis2=dict(domain=[0, 1], anchor="y2", range=xr, tickvals=time_ticks,
                ticktext=[str(v) for v in time_ticks], **axis_common),
    yaxis2=dict(domain=[0, 0.4699], anchor="x2", range=[0.0016, 0.3855], tickvals=power_ticks,
                ticktext=[f"{v:.2f}" for v in power_ticks], **axis_common),
    annotations=[
        dict(text="Waveform", x=0.5, y=1.0159, xref="paper", yref="paper", showarrow=False,
             xanchor="center", yanchor="middle", font=dict(family=FONT, size=16.7, color="black")),
        dict(text="Time (s)", x=0.5, y=0.5124, xref="paper", yref="paper", showarrow=False,
             xanchor="center", yanchor="middle", font=dict(family=FONT, size=13.9, color="black")),
        dict(text="Power", x=0.5, y=0.4851, xref="paper", yref="paper", showarrow=False,
             xanchor="center", yanchor="middle", font=dict(family=FONT, size=16.7, color="black")),
        dict(text="Time (s)", x=0.5, y=-0.0375, xref="paper", yref="paper", showarrow=False,
             xanchor="center", yanchor="middle", font=dict(family=FONT, size=13.9, color="black")),
    ],
)

fig.write_html("out.html", config={"responsive": False, "displayModeBar": False},
               post_script="document.body.style.margin='0';document.body.style.overflow='hidden';")
